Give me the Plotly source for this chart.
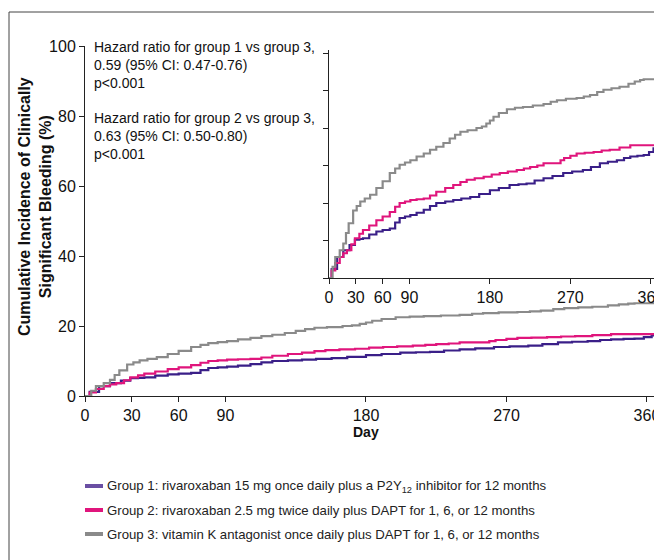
import plotly.graph_objects as go

# ---------------- data ----------------
group_names = [
    "Group 1: rivaroxaban 15 mg once daily plus a P2Y<sub>12</sub> inhibitor for 12 months",
    "Group 2: rivaroxaban 2.5 mg twice daily plus DAPT for 1, 6, or 12 months",
    "Group 3: vitamin K antagonist once daily plus DAPT for 1, 6, or 12 months",
]
group_colors = ["#3a1f88", "#e0157c", "#8a8a8a"]
legend_colors = ["#6a4fa3", "#e0157c", "#8a8a8a"]

g1_days = [0, 3, 9, 16, 23, 29, 34, 38, 45, 53, 60, 68, 74, 79, 85, 91, 98, 106, 113, 120, 130, 139, 148,
           158, 168, 180, 190, 202, 212, 221, 230, 240, 250, 262, 272, 284, 293, 303, 312, 322, 330, 337,
           345, 352, 358, 363, 375]
g1_pct = [0, 1.2, 2.8, 3.7, 4.4, 5.1, 5.2, 5.3, 5.8, 6.2, 6.4, 6.6, 7.4, 8.0, 8.2, 8.4, 8.7, 9.1, 9.6, 10.0,
          10.2, 10.4, 10.6, 10.8, 11.2, 11.7, 12.0, 12.4, 12.5, 12.6, 13.0, 13.3, 13.6, 14.0, 14.2, 14.4,
          14.8, 15.3, 15.5, 15.7, 16.0, 16.2, 16.3, 16.4, 16.8, 17.3, 17.3]

g2_days = [0, 3, 7, 12, 16, 20, 25, 29, 34, 38, 45, 53, 60, 68, 74, 79, 85, 91, 98, 106, 113, 120, 130, 139,
           147, 154, 163, 173, 182, 191, 200, 210, 218, 225, 233, 240, 248, 255, 259, 263, 270, 277, 286,
           296, 305, 314, 325, 337, 375]
g2_pct = [0, 1.0, 2.0, 2.8, 3.3, 3.7, 4.5, 5.3, 5.9, 6.4, 7.0, 7.7, 8.2, 8.8, 9.5, 10.0, 10.2, 10.4, 10.5,
          10.6, 11.0, 11.5, 12.0, 12.4, 12.8, 13.1, 13.3, 13.5, 13.8, 14.0, 14.2, 14.4, 14.6, 14.8, 15.0,
          15.3, 15.3, 15.3, 15.7, 16.0, 16.3, 16.6, 16.7, 16.8, 17.0, 17.1, 17.4, 17.7, 17.7]

g3_days = [0, 4, 7, 12, 16, 19, 22, 27, 31, 35, 40, 46, 53, 60, 68, 74, 79, 85, 91, 98, 106, 113, 120, 128,
           135, 141, 147, 155, 165, 171, 176, 180, 184, 190, 199, 208, 217, 228, 240, 248, 255, 265, 277,
           285, 292, 300, 307, 316, 325, 335, 342, 348, 352, 375]
g3_pct = [0, 1.5, 2.8, 3.7, 4.6, 6.0, 7.3, 9.0, 9.6, 10.2, 10.6, 11.1, 12.0, 12.9, 14.0, 14.6, 15.1, 15.4,
          15.7, 16.2, 16.6, 17.1, 17.5, 18.0, 18.6, 19.1, 19.5, 19.7, 20.0, 20.2, 20.6, 21.0, 21.5, 22.0,
          22.5, 22.7, 22.8, 23.0, 23.2, 23.5, 23.7, 23.9, 24.0, 24.2, 24.4, 24.8, 25.1, 25.3, 25.5, 25.9,
          26.2, 26.4, 26.5, 26.5]

main_xticks = [0, 30, 60, 90, 180, 270, 360]
main_yticks = [0, 20, 40, 60, 80, 100]
inset_yticks = [0, 5, 10, 15, 20, 25, 30]

x_title = "Day"
y_title = "Cumulative Incidence of Clinically<br>Significant Bleeding (%)"
hr_text = ("Hazard ratio for group 1 vs group 3,<br>0.59 (95% CI: 0.47-0.76)<br>p&lt;0.001",
           "Hazard ratio for group 2 vs group 3,<br>0.63 (95% CI: 0.50-0.80)<br>p&lt;0.001")

# ---------------- figure ----------------
OFF = 8  # page body margin of the browser
W, H = 662 - OFF, 560 - OFF
FONT = "Liberation Sans, Arial, sans-serif"


def px(x):
    return (x - OFF) / W


def py(y):
    return 1 - (y - OFF) / H


RIGHT = 662
series = [(g1_days, g1_pct), (g2_days, g2_pct), (g3_days, g3_pct)]
fig = go.Figure()
for (d, p), c, n in zip(series, group_colors, group_names):
    fig.add_trace(go.Scatter(x=d, y=p, mode="lines", line=dict(color=c, width=2.2, shape="hv"),
                             name=n, showlegend=False, xaxis="x", yaxis="y"))
for (d, p), c, n in zip(series, group_colors, group_names):
    fig.add_trace(go.Scatter(x=d, y=p, mode="lines", line=dict(color=c, width=2.2, shape="hv"),
                             name=n, showlegend=False, xaxis="x2", yaxis="y2"))

axis_common = dict(showline=True, linecolor="#222", linewidth=1, ticks="outside", ticklen=5,
                   tickcolor="#222", showgrid=False, zeroline=False, automargin=False,
                   ticklabeloverflow="allow",
                   tickfont=dict(family=FONT, size=16, color="#111"))

fig.update_layout(
    width=W, height=H,
    margin=dict(l=0, r=0, t=0, b=0, autoexpand=False),
    paper_bgcolor="white", plot_bgcolor="rgba(0,0,0,0)",
    showlegend=False,
    font=dict(family=FONT, color="#111"),
    xaxis=dict(domain=[px(85), px(RIGHT)], range=[0, (RIGHT - 85) / 1.561], tickvals=main_xticks,
               anchor="y", **axis_common),
    yaxis=dict(domain=[py(396), py(46)], range=[0, 100], tickvals=main_yticks, anchor="x",
               **axis_common),
    xaxis2=dict(domain=[px(329), px(RIGHT)], range=[0, (RIGHT - 329) / 0.894], tickvals=main_xticks,
                anchor="y2", **axis_common),
    yaxis2=dict(domain=[py(278), py(50)], range=[0, 30.4], tickvals=inset_yticks, showticklabels=False,
                anchor="x2", **axis_common),
)

# axis titles
fig.add_annotation(xref="paper", yref="paper", x=px(366), y=py(432), xanchor="center", yanchor="middle",
                   text="<b>%s</b>" % x_title, showarrow=False,
                   font=dict(family=FONT, size=14, color="#111"))
fig.add_annotation(xref="paper", yref="paper", x=px(35), y=py(207), xanchor="center", yanchor="middle",
                   text="<b>%s</b>" % y_title, showarrow=False, textangle=-90,
                   font=dict(family=FONT, size=16, color="#111"))

# hazard ratio text
fig.add_annotation(xref="paper", yref="paper", x=px(92), y=py(37), xanchor="left", yanchor="top",
                   text=hr_text[0], showarrow=False, align="left",
                   font=dict(family=FONT, size=14, color="#111"))
fig.add_annotation(xref="paper", yref="paper", x=px(92), y=py(108), xanchor="left", yanchor="top",
                   text=hr_text[1], showarrow=False, align="left",
                   font=dict(family=FONT, size=14, color="#111"))

# custom legend
legend_y = [486, 510, 534]
for name, col, yy in zip(group_names, legend_colors, legend_y):
    fig.add_shape(type="line", xref="paper", yref="paper", x0=px(85), x1=px(103), y0=py(yy), y1=py(yy),
                  line=dict(color=col, width=4))
    fig.add_annotation(xref="paper", yref="paper", x=px(105), y=py(yy), xanchor="left", yanchor="middle",
                       text=name, showarrow=False, font=dict(family=FONT, size=13.2, color="#222"))

# outer frame (cropped at right and bottom)
fig.add_shape(type="rect", xref="paper", yref="paper", x0=px(9), x1=1.05, y0=-0.05, y1=py(12),
              line=dict(color="#444", width=1))

fig.write_html("out.html")
